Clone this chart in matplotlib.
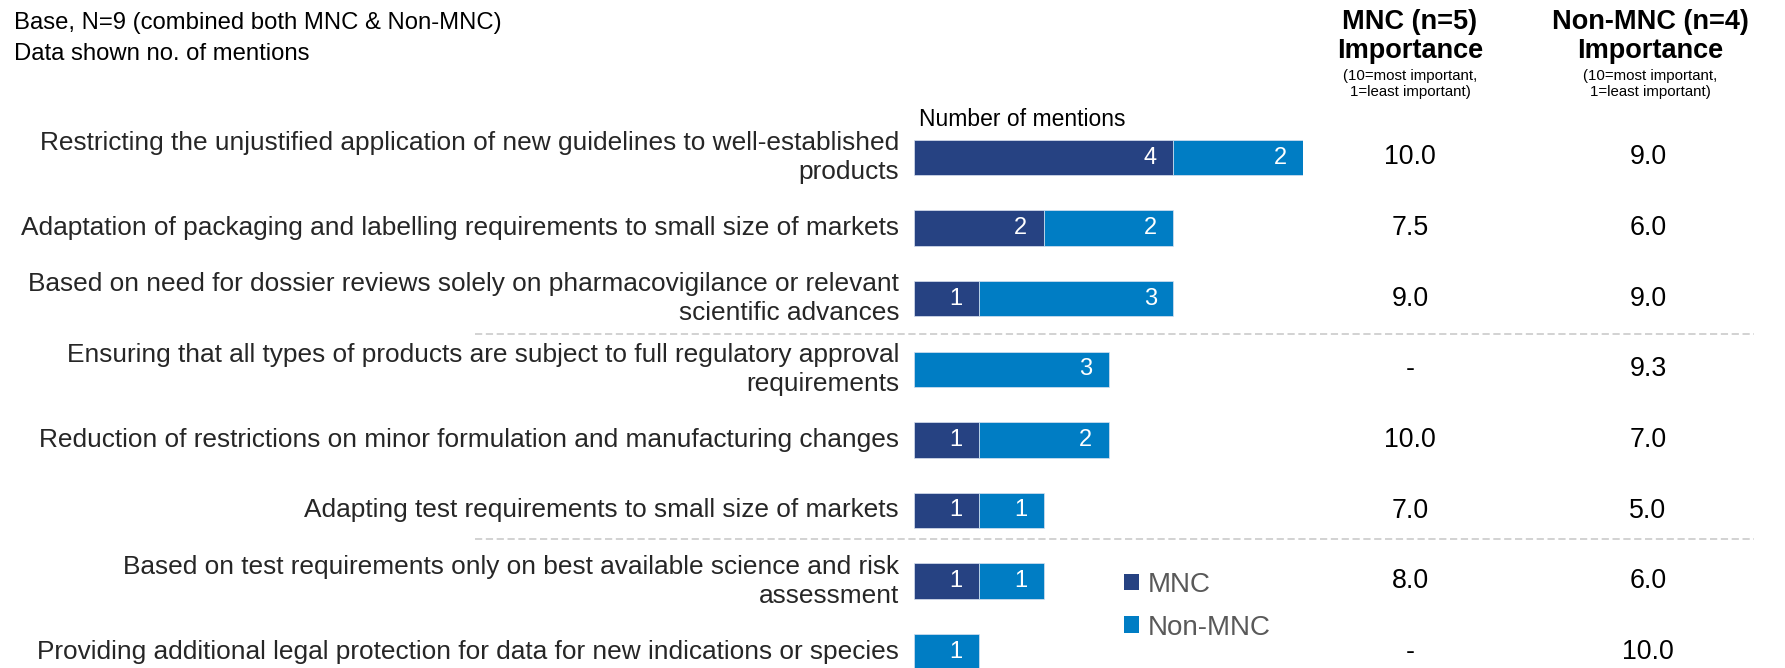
import matplotlib
matplotlib.use("Agg")
import matplotlib.pyplot as plt
from matplotlib.transforms import blended_transform_factory
from matplotlib.patches import Patch

plt.rcParams["font.family"] = ["Liberation Sans", "DejaVu Sans"]

W, H = 1785, 668

categories = [
    "Restricting the unjustified application of new guidelines to well-established\nproducts",
    "Adaptation of packaging and labelling requirements to small size of markets",
    "Based on need for dossier reviews solely on pharmacovigilance or relevant\nscientific advances",
    "Ensuring that all types of products are subject to full regulatory approval\nrequirements",
    "Reduction of restrictions on minor formulation and manufacturing changes",
    "Adapting test requirements to small size of markets",
    "Based on test requirements only on best available science and risk\nassessment",
    "Providing additional legal protection for data for new indications or species",
]
mnc_mentions = [4, 2, 1, 0, 1, 1, 1, 0]
non_mnc_mentions = [2, 2, 3, 3, 2, 1, 1, 1]
mnc_importance = [10.0, 7.5, 9.0, None, 10.0, 7.0, 8.0, None]
non_mnc_importance = [9.0, 6.0, 9.0, 9.3, 7.0, 5.0, 6.0, 10.0]
group_breaks = [2.5, 5.4]

DARK = "#264282"
LIGHT = "#007DC4"


def fx(px):
    return px / W


def fy(py):
    return 1 - py / H


fig = plt.figure(figsize=(W / 100, H / 100), dpi=100)
ax = fig.add_axes([fx(914), 0, (1303 - 914) / W, 1])
ax.set_xlim(0, 6)
# row i sits at 157.5 + 70.6*i pixels from the top
ax.set_ylim((H - 157.5) / 70.6, -157.5 / 70.6)
ax.axis("off")

ys = list(range(len(categories)))
ax.barh(ys, mnc_mentions, height=0.5, color=DARK, edgecolor="#d9e2f0", linewidth=0.5)
ax.barh(ys, non_mnc_mentions, left=mnc_mentions, height=0.5, color=LIGHT,
        edgecolor="#d9e2f0", linewidth=0.5)

for y, m, n in zip(ys, mnc_mentions, non_mnc_mentions):
    if m:
        ax.text(m - 0.25, y, str(m), ha="right", va="center", color="white", fontsize=17)
    if n:
        ax.text(m + n - 0.25, y, str(n), ha="right", va="center", color="white", fontsize=17)

trans = blended_transform_factory(fig.transFigure, ax.transData)

# category labels
for y, label in zip(ys, categories):
    ax.text(fx(899), y, label, transform=trans, ha="right", va="center",
            multialignment="right", fontsize=18.9, color="#262626", linespacing=1.27)

# importance columns
for y, a, b in zip(ys, mnc_importance, non_mnc_importance):
    ax.text(fx(1410), y, "-" if a is None else f"{a:.1f}", transform=trans,
            ha="center", va="center", fontsize=19.3, color="black")
    ax.text(fx(1648), y, "-" if b is None else f"{b:.1f}", transform=trans,
            ha="center", va="center", fontsize=19.3, color="black")

# group separators
for yb in group_breaks:
    ax.plot([fx(475), fx(1754)], [yb, yb], transform=trans, clip_on=False,
            color="#cfcfcf", linewidth=1.3, linestyle=(0, (4, 2)))

# headers
fig.text(fx(14), fy(23), "Base, N=9 (combined both MNC & Non-MNC)", fontsize=17.2,
         va="center", color="black")
fig.text(fx(14), fy(53.5), "Data shown no. of mentions", fontsize=17.2,
         va="center", color="black")
fig.text(fx(919), fy(126), "Number of mentions", fontsize=16.5, va="baseline", color="black")

for cx, title in [(1410, "MNC (n=5)"), (1650, "Non-MNC (n=4)")]:
    fig.text(fx(cx), fy(29), title, fontsize=19.5, fontweight="bold", ha="center", va="baseline")
    fig.text(fx(cx), fy(58), "Importance", fontsize=19.5, fontweight="bold", ha="center", va="baseline")
    fig.text(fx(cx), fy(80), "(10=most important,", fontsize=10.8, ha="center", va="baseline")
    fig.text(fx(cx), fy(96), "1=least important)", fontsize=10.8, ha="center", va="baseline")

handles = [Patch(facecolor=DARK, label="MNC"), Patch(facecolor=LIGHT, label="Non-MNC")]
fig.legend(handles=handles, loc="upper left", bbox_to_anchor=(fx(1110), fy(558)),
           frameon=False, fontsize=20, labelcolor="#595959", handlelength=0.55,
           handleheight=0.55, handletextpad=0.3, labelspacing=0.6, borderpad=0)

fig.savefig("out.png", dpi=100)
